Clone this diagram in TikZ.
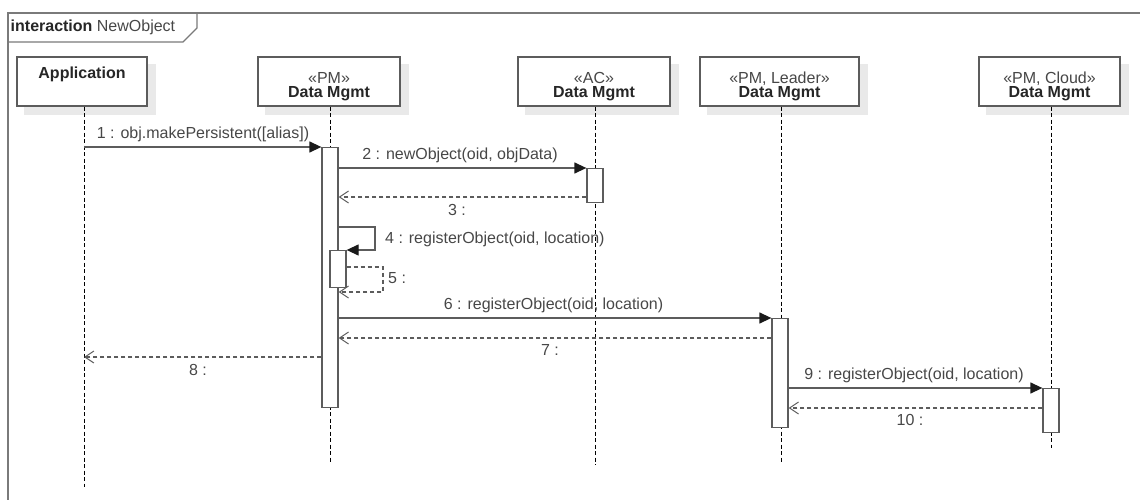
\documentclass[tikz,border=0pt]{standalone}
\usepackage{fontspec}
\setmainfont{Liberation Sans}
\usetikzlibrary{arrows.meta,calc,backgrounds}
\definecolor{linegrey}{HTML}{5C5C5C}
\definecolor{framegrey}{HTML}{7A7A7A}
\definecolor{shadowgrey}{HTML}{E9E9E9}
\definecolor{textgrey}{HTML}{474747}
\definecolor{headtext}{HTML}{262626}
\definecolor{tipblack}{HTML}{1A1A1A}

\begin{document}
\begin{tikzpicture}[x=1pt,y=-1pt,
  every node/.style={font=\fontsize{16}{15.5}\selectfont, text=textgrey, inner sep=0pt},
  headbox/.style={draw=linegrey, line width=1.3pt, fill=white, minimum height=49pt},
  headshadow/.style={fill=shadowgrey},
  headlabel/.style={align=center, text=textgrey, font=\fontsize{16}{14}\selectfont},
  actbar/.style={draw=linegrey, line width=1.3pt, fill=white, minimum width=16pt, anchor=north},
  life/.style={draw=black, line width=0.9pt, dash pattern=on 4pt off 2.5pt},
  sync/.style={draw=linegrey, line width=1.3pt,
    -{Triangle[length=12pt,width=11pt,color=tipblack,fill=tipblack]}},
  ret/.style={draw=linegrey, line width=1.2pt, dash pattern=on 4pt off 3pt,
    -{Straight Barb[length=9pt,width=12pt,line width=1pt,color=linegrey]}},
  msglabel/.style={text=textgrey}
]
\useasboundingbox (0,0) rectangle (1140,500);

% interaction frame and its name tab
\draw[framegrey, line width=1.4pt] (8,501) -- (8,13) -- (1141,13);
\draw[framegrey, line width=1.4pt] (8,42) -- (183,42) -- (197,28) -- (197,13);
\node[anchor=west, text=headtext] (frametitle) at (10.5,27.5) {\textbf{interaction} \textcolor{textgrey}{NewObject}};

% lifeline heads
\node[headbox, minimum width=130pt] (app) at (82,81.5) {};
\node[headbox, minimum width=142pt] (pm) at (329,81.5) {};
\node[headbox, minimum width=152pt] (ac) at (594,81.5) {};
\node[headbox, minimum width=159pt] (lead) at (779.5,81.5) {};
\node[headbox, minimum width=141pt] (cloud) at (1049.5,81.5) {};

% soft drop shadows behind the heads
\begin{scope}[on background layer]
  \foreach \h in {app,pm,ac,lead,cloud}
    \fill[headshadow] ($(\h.north west)+(8,8)$) rectangle ($(\h.south east)+(8,8)$);
\end{scope}

\node[text=headtext] (apptxt) at (82,74) {\textbf{Application}};
\node[headlabel] (pmtxt) at (329,86.5) {«PM»\\\textcolor{headtext}{\textbf{Data Mgmt}}};
\node[headlabel] (actxt) at (594,86.5) {«AC»\\\textcolor{headtext}{\textbf{Data Mgmt}}};
\node[headlabel] (leadtxt) at (779.5,86.5) {«PM, Leader»\\\textcolor{headtext}{\textbf{Data Mgmt}}};
\node[headlabel] (cloudtxt) at (1049.5,86.5) {«PM, Cloud»\\\textcolor{headtext}{\textbf{Data Mgmt}}};

% lifelines
\coordinate (append) at (84,487);
\coordinate (pmend) at (330,463);
\coordinate (acend) at (595,465);
\coordinate (leadend) at (781,462);
\coordinate (cloudend) at (1051,448);
\draw[life] (app.south -| append) -- (append);
\draw[life] (pm.south -| pmend) -- (pmend);
\draw[life] (ac.south -| acend) -- (acend);
\draw[life] (lead.south -| leadend) -- (leadend);
\draw[life] (cloud.south -| cloudend) -- (cloudend);

% activation bars
\node[actbar, minimum height=260pt] (pmact) at (330,147) {};
\node[actbar, minimum height=34pt] (acact) at (595,168) {};
\node[actbar, minimum height=37pt] (nest) at (338,250) {};
\node[actbar, minimum height=109pt] (leadact) at (780,318) {};
\node[actbar, minimum height=44pt] (cloudact) at (1051,388) {};

% messages
\draw[sync] (append |- pmact.north) -- (pmact.north west);
\node[msglabel] (l1) at (203,134) {1 : obj.makePersistent([alias])};

\draw[sync] (pmact.east |- acact.north) -- (acact.north west);
\node[msglabel] (l2) at (460,155) {2 : newObject(oid, objData)};

\draw[ret] (acact.west |- 0,197) -- (pmact.east |- 0,197);
\node[msglabel] (l3) at (457,210) {3 :};

\draw[sync] (pmact.east |- 0,227) -- (375,227) -- (375,250) -- (nest.north east);
\node[msglabel, anchor=west] (l4) at (385,239) {4 : registerObject(oid, location)};

\draw[ret] (nest.east |- 0,267) -- (383,267) -- (383,292) -- (pmact.east |- 0,292);
\node[msglabel, anchor=west] (l5) at (388,278) {5 :};

\draw[sync] (pmact.east |- leadact.north) -- (leadact.north west);
\node[msglabel] (l6) at (553.5,305) {6 : registerObject(oid, location)};

\draw[ret] (leadact.west |- 0,338) -- (pmact.east |- 0,338);
\node[msglabel] (l7) at (550,350) {7 :};

\draw[ret] (pmact.west |- 0,357) -- (append |- 0,357);
\node[msglabel] (l8) at (198,370) {8 :};

\draw[sync] (leadact.east |- cloudact.north) -- (cloudact.north west);
\node[msglabel] (l9) at (914,375) {9 : registerObject(oid, location)};

\draw[ret] (cloudact.west |- 0,408) -- (leadact.east |- 0,408);
\node[msglabel] (l10) at (910,420) {10 :};

\end{tikzpicture}
\end{document}
